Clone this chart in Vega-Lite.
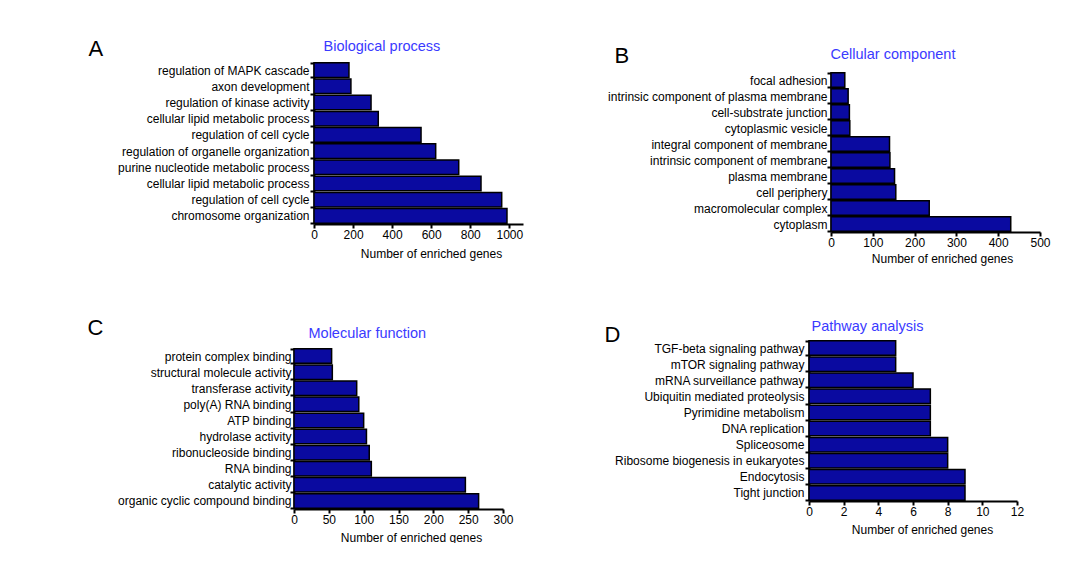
{
  "$schema": "https://vega.github.io/schema/vega-lite/v6.json",
  "padding": {"left": 87, "top": 37, "right": 0, "bottom": 0},
  "background": "white",
  "config": {
    "font": "Liberation Sans",
    "view": {"stroke": null},
    "axis": {
      "labelFont": "Liberation Sans",
      "titleFont": "Liberation Sans",
      "labelFontSize": 12,
      "labelLimit": 400,
      "labelColor": "black",
      "titleColor": "black",
      "titleFontWeight": "normal",
      "domainColor": "black",
      "tickColor": "black",
      "domainWidth": 2,
      "tickWidth": 2,
      "tickSize": 4,
      "grid": false
    },
    "bar": {"fill": "#0a0aa0", "stroke": "black", "strokeWidth": 1.5}
  },
  "datasets": {
    "bp": [
      {"term": "regulation of MAPK cascade", "genes": 179},
      {"term": "axon development\u00a0", "genes": 189},
      {"term": "regulation of kinase activity", "genes": 292},
      {"term": "cellular lipid metabolic process", "genes": 329},
      {"term": "regulation of cell cycle\u00a0", "genes": 548},
      {"term": "regulation of organelle organization", "genes": 623},
      {"term": "purine nucleotide metabolic process", "genes": 741},
      {"term": "cellular lipid metabolic process ", "genes": 855},
      {"term": "regulation of cell cycle", "genes": 961},
      {"term": "chromosome organization", "genes": 988}
    ],
    "cc": [
      {"term": "focal adhesion", "genes": 33},
      {"term": "intrinsic component of plasma membrane", "genes": 41},
      {"term": "cell-substrate junction", "genes": 44},
      {"term": "cytoplasmic vesicle", "genes": 45},
      {"term": "integral component of membrane", "genes": 140},
      {"term": "intrinsic component of membrane", "genes": 141},
      {"term": "plasma membrane", "genes": 152},
      {"term": "cell periphery", "genes": 155},
      {"term": "macromolecular complex", "genes": 235},
      {"term": "cytoplasm", "genes": 430}
    ],
    "mf": [
      {"term": "protein complex binding", "genes": 54},
      {"term": "structural molecule activity\u00a0", "genes": 55},
      {"term": "transferase activity\u00a0", "genes": 90},
      {"term": "poly(A) RNA binding", "genes": 93},
      {"term": "ATP binding", "genes": 100},
      {"term": "hydrolase activity", "genes": 104},
      {"term": "ribonucleoside binding", "genes": 108},
      {"term": "RNA binding", "genes": 111},
      {"term": "catalytic activity", "genes": 246},
      {"term": "organic cyclic compound binding", "genes": 265}
    ],
    "pw": [
      {"term": "TGF-beta signaling pathway", "genes": 5},
      {"term": "mTOR signaling pathway", "genes": 5},
      {"term": "mRNA surveillance pathway", "genes": 6},
      {"term": "Ubiquitin mediated proteolysis", "genes": 7},
      {"term": "Pyrimidine metabolism", "genes": 7},
      {"term": "DNA replication", "genes": 7},
      {"term": "Spliceosome", "genes": 8},
      {"term": "Ribosome biogenesis in eukaryotes", "genes": 8},
      {"term": "Endocytosis", "genes": 9},
      {"term": "Tight junction", "genes": 9}
    ]
  },
  "spacing": 81,
  "hconcat": [
    {
      "spacing": 57,
      "vconcat": [
        {
          "width": 229, "height": 162,
          "data": {"name": "bp"},
          "encoding": {
            "y": {"field": "term", "type": "nominal", "sort": null,
              "scale": {"paddingInner": 0.1, "paddingOuter": 0.05},
              "axis": {"offset": -20, "title": "A", "titleAngle": 0, "titleX": -226, "titleY": -7, "titleAlign": "left", "titleBaseline": "alphabetic", "titleFontSize": 22, "tickBand": "extent", "labelPadding": 1}}
          },
          "layer": [
            {"mark": {"type": "bar"},
              "encoding": {"x": {"field": "genes", "type": "quantitative", "scale": {"domain": [0, 1070], "nice": false, "range": [20, 229]},
                "axis": {"orient": "bottom", "values": [0, 200, 400, 600, 800, 1000], "format": "d", "labelFlush": false, "labelPadding": 1, "title": "Number of enriched genes", "titleFontSize": 12, "titleX": 137, "titleY": 33, "titleAlign": "center", "titleBaseline": "alphabetic"}}}},
            {"mark": {"type": "bar", "opacity": 0},
              "encoding": {"x": {"field": "genes", "type": "quantitative",
                "axis": {"orient": "top", "domain": false, "ticks": false, "labels": false, "title": "Biological process", "titleColor": "#3a3aff", "titleFontSize": 14.5, "titleX": 29, "titleY": -12, "titleAlign": "left", "titleBaseline": "alphabetic"}}}}
          ],
          "resolve": {"axis": {"x": "independent"}}
        },
        {
          "width": 209, "height": 168,
          "data": {"name": "mf"},
          "encoding": {
            "y": {"field": "term", "type": "nominal", "sort": null,
              "scale": {"paddingInner": 0.1, "paddingOuter": 0.05, "range": [7, 168]},
              "axis": {"title": "C", "titleAngle": 0, "titleX": -207, "titleY": -7, "titleAlign": "left", "titleBaseline": "alphabetic", "titleFontSize": 22, "tickBand": "extent", "labelPadding": -1}}
          },
          "layer": [
            {"mark": {"type": "bar"},
              "encoding": {"x": {"field": "genes", "type": "quantitative", "scale": {"domain": [0, 300], "nice": false},
                "axis": {"orient": "bottom", "values": [0, 50, 100, 150, 200, 250, 300], "format": "d", "labelFlush": false, "labelPadding": 1, "title": "Number of enriched genes", "titleFontSize": 12, "titleX": 117, "titleY": 32, "titleAlign": "center", "titleBaseline": "alphabetic"}}}},
            {"mark": {"type": "bar", "opacity": 0},
              "encoding": {"x": {"field": "genes", "type": "quantitative",
                "axis": {"orient": "top", "domain": false, "ticks": false, "labels": false, "title": "Molecular function", "titleColor": "#3a3aff", "titleFontSize": 14.5, "titleX": 14, "titleY": -4, "titleAlign": "left", "titleBaseline": "alphabetic"}}}}
          ],
          "resolve": {"axis": {"x": "independent"}}
        }
      ]
    },
    {
      "spacing": 54,
      "vconcat": [
        {
          "width": 231, "height": 170,
          "data": {"name": "cc"},
          "encoding": {
            "y": {"field": "term", "type": "nominal", "sort": null,
              "scale": {"paddingInner": 0.1, "paddingOuter": 0.05, "range": [10, 170]},
              "axis": {"offset": -22, "title": "B", "titleAngle": 0, "titleX": -217, "titleY": 0, "titleAlign": "left", "titleBaseline": "alphabetic", "titleFontSize": 22, "tickBand": "extent", "labelPadding": 0}}
          },
          "layer": [
            {"mark": {"type": "bar"},
              "encoding": {"x": {"field": "genes", "type": "quantitative", "scale": {"domain": [0, 500], "nice": false, "range": [22, 231]},
                "axis": {"orient": "bottom", "values": [0, 100, 200, 300, 400, 500], "format": "d", "labelFlush": false, "labelPadding": 1, "title": "Number of enriched genes", "titleFontSize": 12, "titleX": 133, "titleY": 30, "titleAlign": "center", "titleBaseline": "alphabetic"}}}},
            {"mark": {"type": "bar", "opacity": 0},
              "encoding": {"x": {"field": "genes", "type": "quantitative",
                "axis": {"orient": "top", "domain": false, "ticks": false, "labels": false, "title": "Cellular component", "titleColor": "#3a3aff", "titleFontSize": 14.5, "titleX": 21, "titleY": -4, "titleAlign": "left", "titleBaseline": "alphabetic"}}}}
          ],
          "resolve": {"axis": {"x": "independent"}}
        },
        {
          "width": 208, "height": 161,
          "data": {"name": "pw"},
          "encoding": {
            "y": {"field": "term", "type": "nominal", "sort": null,
              "scale": {"paddingInner": 0.1, "paddingOuter": 0.05},
              "axis": {"title": "D", "titleAngle": 0, "titleX": -205, "titleY": 1, "titleAlign": "left", "titleBaseline": "alphabetic", "titleFontSize": 22, "tickBand": "extent", "labelPadding": 1}}
          },
          "layer": [
            {"mark": {"type": "bar"},
              "encoding": {"x": {"field": "genes", "type": "quantitative", "scale": {"domain": [0, 12], "nice": false},
                "axis": {"orient": "bottom", "values": [0, 2, 4, 6, 8, 10, 12], "format": "d", "labelFlush": false, "labelPadding": 1, "title": "Number of enriched genes", "titleFontSize": 12, "titleX": 113, "titleY": 32, "titleAlign": "center", "titleBaseline": "alphabetic"}}}},
            {"mark": {"type": "bar", "opacity": 0},
              "encoding": {"x": {"field": "genes", "type": "quantitative",
                "axis": {"orient": "top", "domain": false, "ticks": false, "labels": false, "title": "Pathway analysis", "titleColor": "#3a3aff", "titleFontSize": 14.5, "titleX": 2, "titleY": -10, "titleAlign": "left", "titleBaseline": "alphabetic"}}}}
          ],
          "resolve": {"axis": {"x": "independent"}}
        }
      ]
    }
  ]
}
